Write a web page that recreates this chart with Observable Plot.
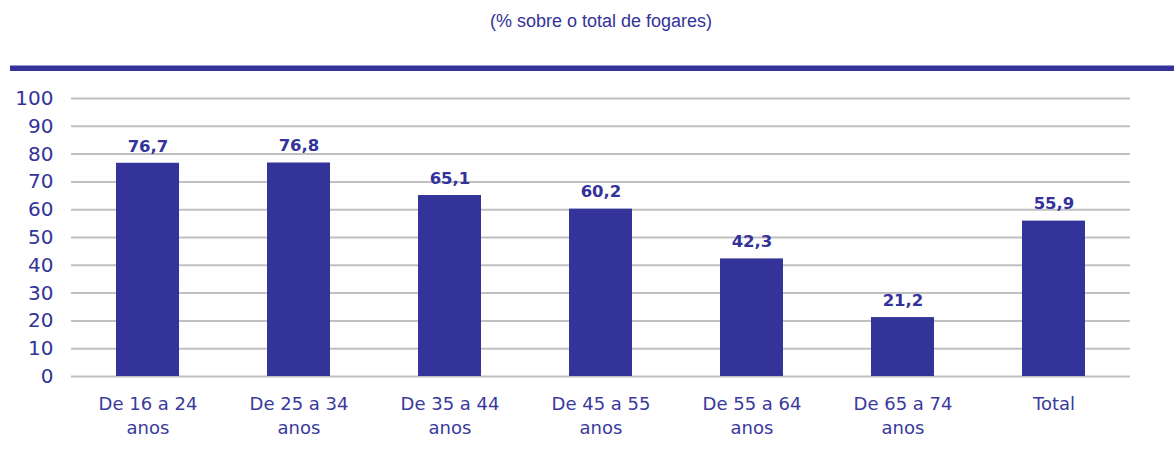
<!DOCTYPE html>
<html>
<head>
<meta charset="utf-8">
<script src="https://cdn.jsdelivr.net/npm/d3@7"></script>
<script src="https://cdn.jsdelivr.net/npm/@observablehq/plot@0.6"></script>
<style>
  body { margin: 0; background: #fff; width: 1174px; height: 470px; position: relative; overflow: hidden; }
  #title { position: absolute; top: 11px; left: 0; width: 1202px; text-align: center; font-family: "Liberation Sans", Arial, sans-serif; font-size: 18px; color: #333399; }
  #rule { position: absolute; top: 65px; left: 10px; right: 0; height: 5px; background: #333399; border-top: 1px solid #9999cc; }
  #chart { position: absolute; top: 80px; left: 0; }
</style>
</head>
<body>
<div id="title">(% sobre o total de fogares)</div>
<div id="rule"></div>
<div id="chart"></div>
<script>
const categories = ["De 16 a 24 anos", "De 25 a 34 anos", "De 35 a 44 anos", "De 45 a 55 anos", "De 55 a 64 anos", "De 65 a 74 anos", "Total"];
const values = [76.7, 76.8, 65.1, 60.2, 42.3, 21.2, 55.9];
const yTicks = [0, 10, 20, 30, 40, 50, 60, 70, 80, 90, 100];

const data = categories.map((c, i) => ({category: c, value: values[i]}));
const blue = "#333399";

const chart = Plot.plot({
  width: 1174,
  height: 370,
  marginTop: 18,
  marginBottom: 74,
  marginLeft: 71,
  marginRight: 44,
  style: {fontFamily: "DejaVu Sans, Verdana, sans-serif", color: blue, background: "white"},
  x: {domain: categories, paddingInner: 0.58, paddingOuter: 0.29, label: null},
  y: {domain: [0, 100], label: null},
  marks: [
    Plot.ruleY(yTicks, {stroke: "#c0c0c0", strokeWidth: 2}),
    Plot.barY(data, {x: "category", y: "value", fill: blue}),
    Plot.text(data, {x: "category", y: "value", text: d => d.value.toFixed(1).replace(".", ","), dy: -17, fontWeight: "bold", fontSize: 16.5, fill: blue}),
    Plot.axisY({ticks: yTicks, tickSize: 0, tickPadding: 18, fontSize: 20, fill: blue, label: null}),
    Plot.axisX({tickSize: 0, tickPadding: 16, fontSize: 18, lineHeight: 1.35, fill: "#3a3a9c", label: null,
      tickFormat: d => d.replace(" anos", "\nanos")})
  ]
});
document.getElementById("chart").appendChild(chart);
</script>
</body>
</html>
